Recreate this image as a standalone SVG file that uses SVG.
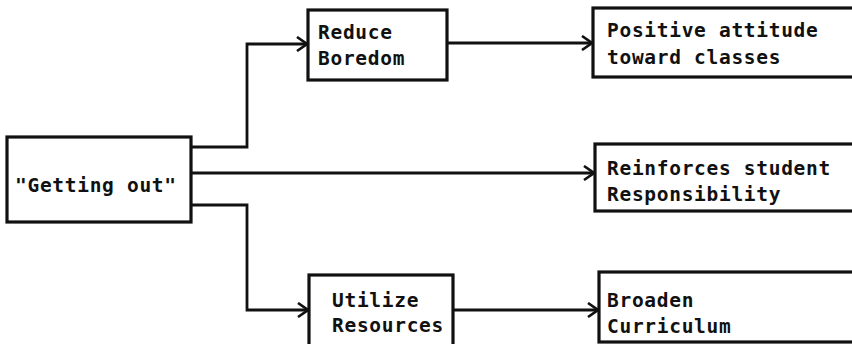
<svg xmlns="http://www.w3.org/2000/svg" width="852" height="344" viewBox="0 0 852 344">
  <style>
    .box { fill: #fff; stroke: #111; stroke-width: 3.2; }
    .lbl { font-family: "DejaVu Sans Mono", "Liberation Mono", monospace; font-weight: bold; font-size: 19.5px; letter-spacing: 0.7px; fill: #111; }
    .wire { fill: none; stroke: #111; stroke-width: 2.8; }
  </style>
  <defs>
    <marker id="chev" viewBox="0 0 12 16" refX="11" refY="8" markerWidth="12" markerHeight="16" markerUnits="userSpaceOnUse" orient="auto">
      <path d="M1,1 L11,8 L1,15" fill="none" stroke="#111" stroke-width="2.6"/>
    </marker>
  </defs>
  <rect width="852" height="344" fill="#fff"/>

  <g id="connectors">
    <path class="wire" d="M191,147 H247 V44 H307" marker-end="url(#chev)"/>
    <path class="wire" d="M191,173 H594" marker-end="url(#chev)"/>
    <path class="wire" d="M191,205 H247 V310 H308" marker-end="url(#chev)"/>
    <path class="wire" d="M447,43 H592" marker-end="url(#chev)"/>
    <path class="wire" d="M453,310 H598" marker-end="url(#chev)"/>
  </g>

  <g id="getting-out">
    <rect class="box" x="7" y="137" width="184" height="85"/>
    <text class="lbl" x="15" y="192">"Getting out"</text>
  </g>

  <g id="reduce-boredom">
    <rect class="box" x="308" y="10" width="139" height="70"/>
    <text class="lbl" x="318" y="39">Reduce</text>
    <text class="lbl" x="318" y="65">Boredom</text>
  </g>

  <g id="utilize-resources">
    <rect class="box" x="309" y="275" width="144" height="80"/>
    <text class="lbl" x="332" y="307">Utilize</text>
    <text class="lbl" x="332" y="332">Resources</text>
  </g>

  <g id="positive-attitude">
    <rect class="box" x="593" y="8" width="280" height="69"/>
    <text class="lbl" x="607" y="37">Positive attitude</text>
    <text class="lbl" x="607" y="64">toward classes</text>
  </g>

  <g id="reinforces-responsibility">
    <rect class="box" x="595" y="144" width="280" height="67"/>
    <text class="lbl" x="607" y="175">Reinforces student</text>
    <text class="lbl" x="607" y="201">Responsibility</text>
  </g>

  <g id="broaden-curriculum">
    <rect class="box" x="599" y="272" width="280" height="70"/>
    <text class="lbl" x="607" y="307">Broaden</text>
    <text class="lbl" x="607" y="333">Curriculum</text>
  </g>
</svg>
